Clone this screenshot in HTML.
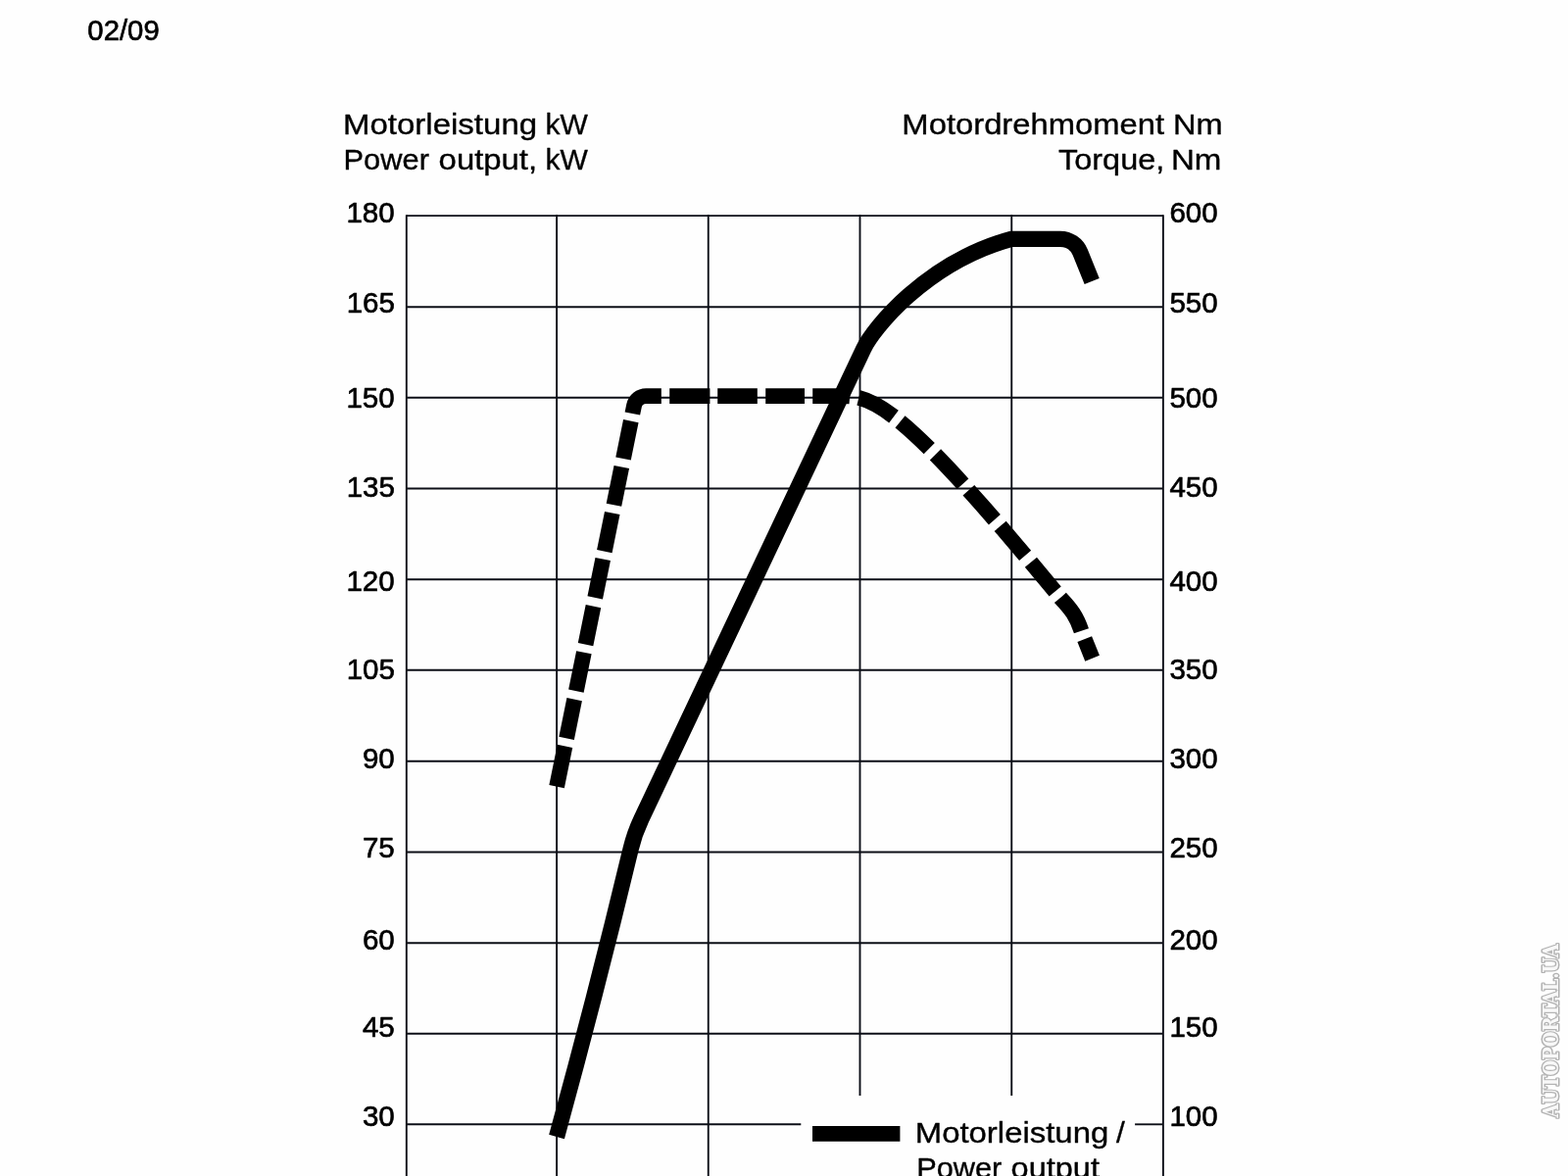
<!DOCTYPE html>
<html lang="de">
<head>
<meta charset="utf-8">
<title>Motorleistung / Motordrehmoment</title>
<style>
html,body{margin:0;padding:0;background:#fff;}
body{width:1600px;height:1200px;overflow:hidden;position:relative;font-family:"Liberation Sans",sans-serif;}
svg{position:absolute;left:0;top:0;display:block;}
.txt text{font-family:"Liberation Sans",sans-serif;fill:#000;stroke:#000;stroke-linejoin:round;}
.txt .l{font-size:30.0px;stroke-width:0.65px;}
.txt .t{font-size:29.6px;stroke-width:0.35px;}
.grid line{stroke:#0d0f17;stroke-width:1.9;}
.curve{fill:none;stroke:#000;stroke-width:15.8;stroke-linejoin:round;stroke-linecap:butt;}
.solid{stroke-width:16.3;}
.wm{font-family:"DejaVu Serif","Liberation Serif",serif;font-weight:bold;font-size:23.2px;fill:#f8f8f8;stroke:#b2b2b2;stroke-width:3px;stroke-linejoin:round;paint-order:stroke;}
</style>
</head>
<body>
<svg width="1600" height="1200" viewBox="0 0 1600 1200">
<rect x="0" y="0" width="1600" height="1200" fill="#fefefe"/>
<g class="grid">
<line x1="414.80" y1="219.15" x2="414.80" y2="1201.00"/>
<line x1="568.10" y1="219.15" x2="568.10" y2="1201.00"/>
<line x1="722.75" y1="219.15" x2="722.75" y2="1201.00"/>
<line x1="877.50" y1="219.15" x2="877.50" y2="1118.10"/>
<line x1="1032.25" y1="219.15" x2="1032.25" y2="1118.10"/>
<line x1="1186.90" y1="219.15" x2="1186.90" y2="1201.00"/>
<line x1="414.80" y1="220.10" x2="1186.90" y2="220.10"/>
<line x1="414.80" y1="313.20" x2="1186.90" y2="313.20"/>
<line x1="414.80" y1="405.80" x2="1186.90" y2="405.80"/>
<line x1="414.80" y1="498.50" x2="1186.90" y2="498.50"/>
<line x1="414.80" y1="591.20" x2="1186.90" y2="591.20"/>
<line x1="414.80" y1="683.80" x2="1186.90" y2="683.80"/>
<line x1="414.80" y1="776.70" x2="1186.90" y2="776.70"/>
<line x1="414.80" y1="869.50" x2="1186.90" y2="869.50"/>
<line x1="414.80" y1="962.20" x2="1186.90" y2="962.20"/>
<line x1="414.80" y1="1054.80" x2="1186.90" y2="1054.80"/>
<line x1="414.80" y1="1147.30" x2="817.30" y2="1147.30"/>
<line x1="1158.10" y1="1147.30" x2="1186.90" y2="1147.30"/>
</g>
<g class="txt">
<text class="l" style="font-size:29.4px" x="89.35" y="40.85" textLength="73.41" lengthAdjust="spacingAndGlyphs">02/09</text>
<text class="t" y="137.25"><tspan x="349.97" textLength="198.15" lengthAdjust="spacingAndGlyphs">Motorleistung</tspan> <tspan x="556.47" textLength="43.31" lengthAdjust="spacingAndGlyphs">kW</tspan></text>
<text class="t" y="173.25"><tspan x="350.55" textLength="87.36" lengthAdjust="spacingAndGlyphs">Power</tspan> <tspan x="447.62" textLength="100.49" lengthAdjust="spacingAndGlyphs">output,</tspan> <tspan x="556.47" textLength="43.31" lengthAdjust="spacingAndGlyphs">kW</tspan></text>
<text class="t" y="137.25"><tspan x="920.39" textLength="267.76" lengthAdjust="spacingAndGlyphs">Motordrehmoment</tspan> <tspan x="1196.91" textLength="50.67" lengthAdjust="spacingAndGlyphs">Nm</tspan></text>
<text class="t" y="173.25"><tspan x="1080.03" textLength="108.29" lengthAdjust="spacingAndGlyphs">Torque,</tspan> <tspan x="1194.96" textLength="51.45" lengthAdjust="spacingAndGlyphs">Nm</tspan></text>
<text class="t" y="1166.00"><tspan x="933.73" textLength="197.53" lengthAdjust="spacingAndGlyphs">Motorleistung</tspan> <tspan x="1139.01" textLength="8.82" lengthAdjust="spacingAndGlyphs">/</tspan></text>
<text class="t" y="1201.75"><tspan x="935.16" textLength="87.16" lengthAdjust="spacingAndGlyphs">Power</tspan> <tspan x="1031.64" textLength="90.32" lengthAdjust="spacingAndGlyphs">output</tspan></text>
<text class="l" x="353.44" y="226.75" textLength="49.26" lengthAdjust="spacingAndGlyphs">180</text>
<text class="l" x="353.68" y="319.15" textLength="49.26" lengthAdjust="spacingAndGlyphs">165</text>
<text class="l" x="353.44" y="415.65" textLength="49.26" lengthAdjust="spacingAndGlyphs">150</text>
<text class="l" x="353.68" y="507.00" textLength="49.26" lengthAdjust="spacingAndGlyphs">135</text>
<text class="l" x="353.44" y="603.25" textLength="49.26" lengthAdjust="spacingAndGlyphs">120</text>
<text class="l" x="353.68" y="692.85" textLength="49.26" lengthAdjust="spacingAndGlyphs">105</text>
<text class="l" x="369.92" y="783.85" textLength="32.84" lengthAdjust="spacingAndGlyphs">90</text>
<text class="l" x="369.92" y="874.75" textLength="32.84" lengthAdjust="spacingAndGlyphs">75</text>
<text class="l" x="369.92" y="969.15" textLength="32.84" lengthAdjust="spacingAndGlyphs">60</text>
<text class="l" x="369.92" y="1057.85" textLength="32.84" lengthAdjust="spacingAndGlyphs">45</text>
<text class="l" x="369.92" y="1149.05" textLength="32.84" lengthAdjust="spacingAndGlyphs">30</text>
<text class="l" x="1193.44" y="226.75" textLength="49.26" lengthAdjust="spacingAndGlyphs">600</text>
<text class="l" x="1193.44" y="319.15" textLength="49.26" lengthAdjust="spacingAndGlyphs">550</text>
<text class="l" x="1193.44" y="415.65" textLength="49.26" lengthAdjust="spacingAndGlyphs">500</text>
<text class="l" x="1193.44" y="507.00" textLength="49.26" lengthAdjust="spacingAndGlyphs">450</text>
<text class="l" x="1193.44" y="603.25" textLength="49.26" lengthAdjust="spacingAndGlyphs">400</text>
<text class="l" x="1193.44" y="692.85" textLength="49.26" lengthAdjust="spacingAndGlyphs">350</text>
<text class="l" x="1193.44" y="783.85" textLength="49.26" lengthAdjust="spacingAndGlyphs">300</text>
<text class="l" x="1193.44" y="874.75" textLength="49.26" lengthAdjust="spacingAndGlyphs">250</text>
<text class="l" x="1193.44" y="969.15" textLength="49.26" lengthAdjust="spacingAndGlyphs">200</text>
<text class="l" x="1193.44" y="1057.85" textLength="49.26" lengthAdjust="spacingAndGlyphs">150</text>
<text class="l" x="1193.44" y="1149.05" textLength="49.26" lengthAdjust="spacingAndGlyphs">100</text>
</g>
<path class="curve" d="M568.10,802.60 L646.97,414.07 A12.50,12.50 0 0 1 659.22,404.06 L859.80,404.06 C894.10,404.06 926.84,421.41 1082.10,610.10 C1093.20,621.90 1098.60,629.00 1103.50,644.00 L1114.60,671.75" stroke-dasharray="42.0 8.2 40.6 8.6 40.2 8.4 39.8 8.8 40.2 8.1 39.9 8.4 39.5 8.7 39.2 7.8 40.7 8.4 41.2 7.8 40.6 8.4 39.8 8.2 38.1 9.2 40.9 8.4 40.4 8.7 40.9 8.7 40.1 8.8 39.3 9.0 38.8 8.2 40.5 8.9 26.1 50.0"/>
<path class="curve solid" d="M568.05,1160.00 C594.58,1063.60 619.80,965.60 643.70,866.00 C646.17,855.73 649.70,845.73 654.29,836.00 L881.07,356.26 C890.71,335.86 944.39,267.97 1032.00,243.80 L1081.88,243.80 A22.00,22.00 0 0 1 1102.27,257.54 L1114.20,287.00"/>
<rect x="829" y="1149" width="89.4" height="15.75" fill="#000"/>
<text class="wm" transform="translate(1590.3,1140.6) rotate(-90)" textLength="177.4" lengthAdjust="spacingAndGlyphs">AUTOPORTAL.UA</text>
</svg>
</body>
</html>
